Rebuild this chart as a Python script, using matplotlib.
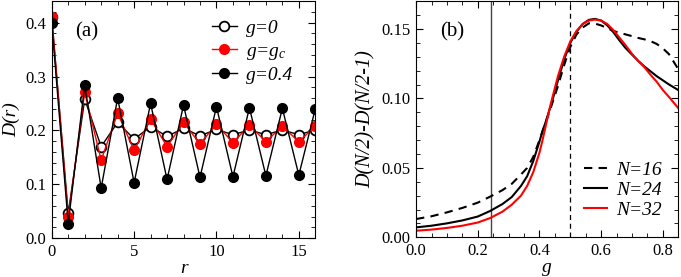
import matplotlib
matplotlib.use("Agg")
import matplotlib.pyplot as plt
from matplotlib.ticker import MultipleLocator

plt.rcParams['font.family'] = 'Liberation Serif'
plt.rcParams['mathtext.fontset'] = 'custom'
plt.rcParams['mathtext.rm'] = 'Liberation Serif'
plt.rcParams['mathtext.it'] = 'Liberation Serif:italic'
plt.rcParams['font.size'] = 12

# panel (a): D(r)
r = list(range(0, 17))
d_g0 = [0.410, 0.046, 0.258, 0.170, 0.215, 0.184, 0.207, 0.189, 0.204,
        0.190, 0.202, 0.192, 0.201, 0.192, 0.201, 0.192, 0.201]
d_gc = [0.410, 0.039, 0.271, 0.145, 0.232, 0.163, 0.221, 0.170, 0.215,
        0.175, 0.212, 0.177, 0.210, 0.179, 0.208, 0.179, 0.208]
d_g04 = [0.399, 0.027, 0.284, 0.093, 0.260, 0.103, 0.250, 0.109, 0.247,
         0.113, 0.244, 0.114, 0.242, 0.116, 0.241, 0.117, 0.240]

# panel (b): D(N/2)-D(N/2-1) vs g
g = [0.0, 0.05, 0.10, 0.15, 0.20, 0.24, 0.28, 0.31, 0.34, 0.36, 0.38, 0.39,
     0.40, 0.41, 0.42, 0.43, 0.44, 0.46, 0.48, 0.50, 0.52, 0.54, 0.56, 0.58,
     0.60, 0.62, 0.64, 0.66, 0.68, 0.70, 0.72, 0.74, 0.76, 0.78, 0.80, 0.82, 0.85]
n16 = [0.0132, 0.0152, 0.0180, 0.0212, 0.0250, 0.0293, 0.0340, 0.0385, 0.0452,
       0.0500, 0.0580, 0.0640, 0.0700, 0.0765, 0.0825, 0.0890, 0.0955, 0.1090,
       0.1240, 0.1370, 0.1460, 0.1510, 0.1540, 0.1538, 0.1525, 0.1505, 0.1485,
       0.1472, 0.1460, 0.1448, 0.1435, 0.1425, 0.1412, 0.1392, 0.1360, 0.1318,
       0.1210]
n24 = [0.0072, 0.0084, 0.0101, 0.0122, 0.0150, 0.0190, 0.0240, 0.0290, 0.0370,
       0.0440, 0.0550, 0.0620, 0.0690, 0.0765, 0.0830, 0.0900, 0.0970, 0.1130,
       0.1280, 0.1400, 0.1480, 0.1535, 0.1565, 0.1572, 0.1560, 0.1525, 0.1475,
       0.1415, 0.1360, 0.1315, 0.1270, 0.1230, 0.1195, 0.1160, 0.1130, 0.1100,
       0.1060]
n32 = [0.0048, 0.0056, 0.0068, 0.0084, 0.0107, 0.0139, 0.0185, 0.0235, 0.0300,
       0.0370, 0.0470, 0.0540, 0.0610, 0.0700, 0.0800, 0.0900, 0.0990, 0.1160,
       0.1300, 0.1410, 0.1485, 0.1535, 0.1560, 0.1567, 0.1560, 0.1535, 0.1490,
       0.1435, 0.1380, 0.1320, 0.1270, 0.1225, 0.1170, 0.1120, 0.1060, 0.1010,
       0.0930]
g_c = 0.243
g_dash = 0.5

fig = plt.figure(figsize=(6.81, 2.77), dpi=100)
ax1 = fig.add_axes([0.076, 0.140, 0.387, 0.856])
ax2 = fig.add_axes([0.611, 0.143, 0.385, 0.853])

ms = 7
ax1.plot(r, d_g0, '-o', color='black', mfc='white', mec='black', mew=1.3, ms=ms, lw=1, label='g=0')
ax1.plot(r, d_gc, '-o', color='red', mfc='red', mec='red', ms=ms, lw=1, label='g=g$_c$')
ax1.plot(r, d_g04, '-o', color='black', mfc='black', mec='black', ms=ms, lw=1, label='g=0.4')
ax1.legend(loc='upper right', bbox_to_anchor=(0.947, 0.955), borderaxespad=0,
           frameon=False, handlelength=1.25, handletextpad=0.5, labelspacing=0.25,
           prop={'style': 'italic', 'size': 14})
ax1.set_xlim(0, 16)
ax1.set_ylim(0, 0.44)
ax1.xaxis.set_major_locator(MultipleLocator(5))
ax1.xaxis.set_minor_locator(MultipleLocator(1))
ax1.yaxis.set_major_locator(MultipleLocator(0.1))
ax1.yaxis.set_minor_locator(MultipleLocator(0.02))
ax1.set_xlabel('r', style='italic', fontsize=14, labelpad=0)
ax1.set_ylabel('D(r)', style='italic', fontsize=14, labelpad=4)
ax1.text(0.09, 0.87, '(a)', transform=ax1.transAxes, fontsize=15, va='center')

ax2.axvline(g_c, color='#444444', lw=1)
ax2.axvline(g_dash, color='black', lw=0.9, ls=(0, (4, 3)))
ax2.plot(g, n16, color='black', lw=1.5, ls=(0, (4, 3)), label='N=16')
ax2.plot(g, n24, color='black', lw=1.5, label='N=24')
ax2.plot(g, n32, color='red', lw=1.5, label='N=32')
ax2.legend(loc='lower right', bbox_to_anchor=(0.968, 0.045), borderaxespad=0,
           frameon=False, handlelength=1.15, handletextpad=0.5, labelspacing=0.12,
           prop={'style': 'italic', 'size': 14})
ax2.set_xlim(0, 0.85)
ax2.set_ylim(0, 0.17)
ax2.xaxis.set_major_locator(MultipleLocator(0.2))
ax2.xaxis.set_minor_locator(MultipleLocator(0.05))
ax2.yaxis.set_major_locator(MultipleLocator(0.05))
ax2.yaxis.set_minor_locator(MultipleLocator(0.01))
ax2.set_xlabel('g', style='italic', fontsize=14, labelpad=0)
ax2.set_ylabel('D(N/2)-D(N/2-1)', style='italic', fontsize=14.5, labelpad=4)
ax2.text(0.09, 0.87, '(b)', transform=ax2.transAxes, fontsize=15, va='center')

for ax in (ax1, ax2):
    ax.tick_params(which='both', direction='in', top=True, right=True)
    ax.tick_params(which='major', length=5)
    ax.tick_params(which='minor', length=3)
    ax.tick_params(axis='both', labelsize=12, pad=4)

fig.savefig('out.png', dpi=100)
